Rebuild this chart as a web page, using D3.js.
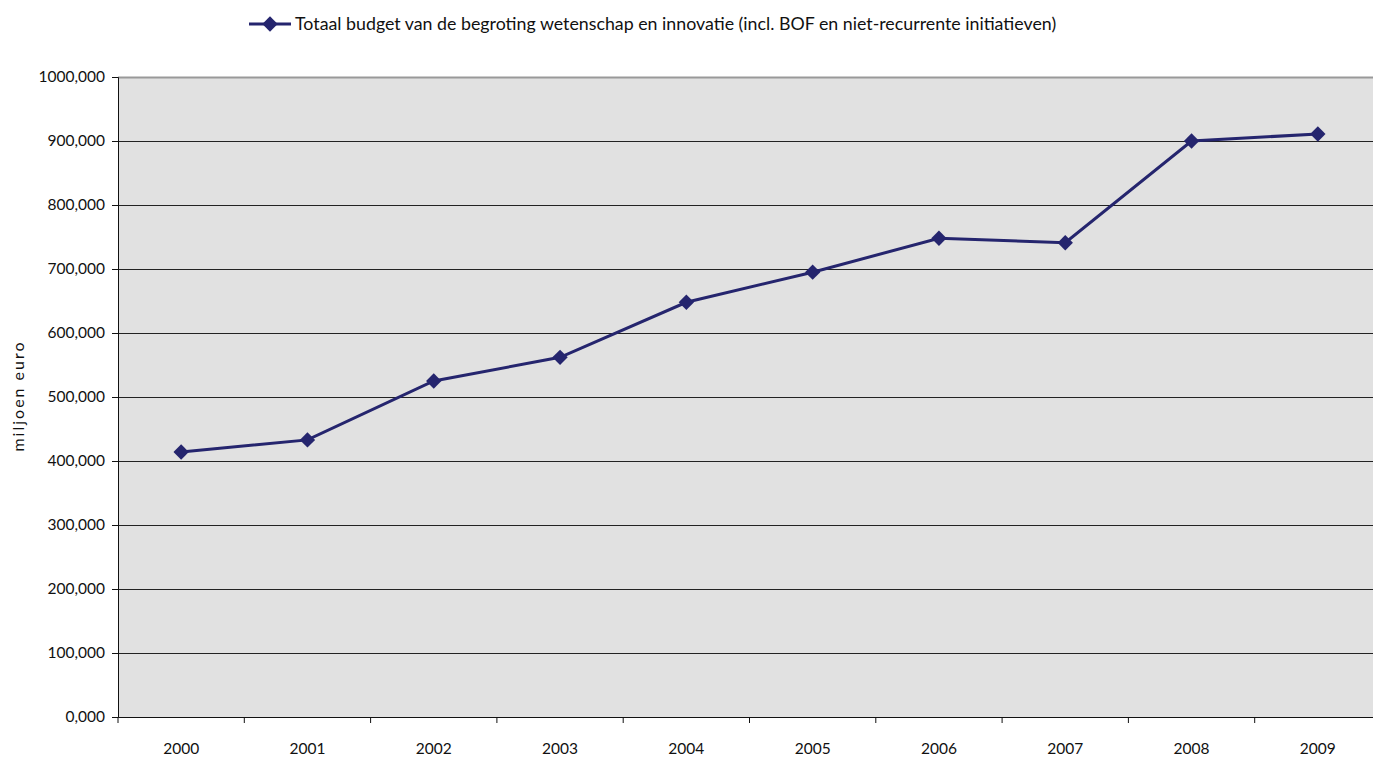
<!DOCTYPE html>
<html>
<head>
<meta charset="utf-8">
<script src="https://cdn.jsdelivr.net/npm/d3@7"></script>
<style>
  body { margin: 0; background: #fff; }
  svg { overflow: visible; }
  text { font-family: Lato, "Open Sans", sans-serif; fill: #111; }
</style>
</head>
<body>
<svg width="1373" height="760"></svg>
<script>
/* Data */
const years = ['2000', '2001', '2002', '2003', '2004', '2005', '2006', '2007', '2008', '2009'];
const budget = [414, 433, 525, 562, 648, 695, 748, 741, 900, 911];
const yTicks = [0, 100, 200, 300, 400, 500, 600, 700, 800, 900, 1000];
const seriesName = 'Totaal budget van de begroting wetenschap en innovatie (incl. BOF en niet-recurrente initiatieven)';

/* SVG */
const svg = d3.select('svg');
const margin = { top: 77, right: -8, bottom: 43, left: 118 };
const width = 1373, height = 760;
const innerWidth = width - margin.left - margin.right;
const innerHeight = height - margin.top - margin.bottom;
const lineColor = '#25256e';

const x = d3.scaleBand().domain(years).range([0, innerWidth]);
const y = d3.scaleLinear().domain([0, 1000]).range([innerHeight, 0]);

const g = svg.append('g')
  .attr('transform', `translate(${margin.left},${margin.top})`);

// plot background
g.append('rect')
  .attr('width', innerWidth)
  .attr('height', innerHeight)
  .attr('fill', '#e1e1e1');

// gridlines
g.selectAll('.grid')
  .data(yTicks.filter(d => d > 0))
  .enter().append('line')
  .attr('x1', 0).attr('x2', innerWidth)
  .attr('y1', d => Math.round(y(d)) + 0.5).attr('y2', d => Math.round(y(d)) + 0.5)
  .attr('stroke', d => d === 1000 ? '#999' : '#222')
  .attr('stroke-width', d => d === 1000 ? 2 : 1);

// y axis
const fmt = d => d + ',000';
const yAxis = g.append('g')
  .call(d3.axisLeft(y).tickValues(yTicks).tickFormat(fmt).tickSize(6).tickPadding(7));
yAxis.select('.domain').attr('stroke', '#111');
yAxis.selectAll('.tick line').attr('stroke', '#111');
yAxis.selectAll('text').attr('font-size', 15.5).attr('font-family', 'Lato, sans-serif').attr('fill', '#111');

// x axis
const xAxis = g.append('g')
  .attr('transform', `translate(0,${innerHeight})`)
  .call(d3.axisBottom(x).tickSize(0).tickPadding(26));
xAxis.select('.domain').attr('stroke', '#111');
xAxis.selectAll('text').attr('font-size', 15.5).attr('font-family', 'Lato, sans-serif').attr('fill', '#111');
xAxis.selectAll('.bandtick')
  .data(years)
  .enter().append('line')
  .attr('x1', d => x(d)).attr('x2', d => x(d))
  .attr('y1', 0).attr('y2', 6)
  .attr('stroke', '#111');

// y label
svg.append('text')
  .attr('transform', 'translate(24,396) rotate(-90)')
  .attr('text-anchor', 'middle')
  .attr('font-size', 16)
  .attr('letter-spacing', 2)
  .text('miljoen euro');

// line
const cx = d => x(d) + x.bandwidth() / 2;
const line = d3.line()
  .x((d, i) => cx(years[i]))
  .y(d => y(d));

g.append('path')
  .datum(budget)
  .attr('d', line)
  .attr('fill', 'none')
  .attr('stroke', lineColor)
  .attr('stroke-width', 3);

const diamond = d3.symbol().type(d3.symbolDiamond2).size(150);
g.selectAll('.pt')
  .data(budget)
  .enter().append('path')
  .attr('d', diamond)
  .attr('transform', (d, i) => `translate(${cx(years[i])},${y(d)})`)
  .attr('fill', lineColor);

// legend
const legend = svg.append('g').attr('transform', 'translate(249,24)');
legend.append('line')
  .attr('x1', 0).attr('x2', 42)
  .attr('stroke', lineColor)
  .attr('stroke-width', 3);
legend.append('path')
  .attr('d', diamond)
  .attr('transform', 'translate(21,0)')
  .attr('fill', lineColor);
legend.append('text')
  .attr('x', 46)
  .attr('dy', '0.35em')
  .attr('font-size', 17.8)
  .text(seriesName);
</script>
</body>
</html>
